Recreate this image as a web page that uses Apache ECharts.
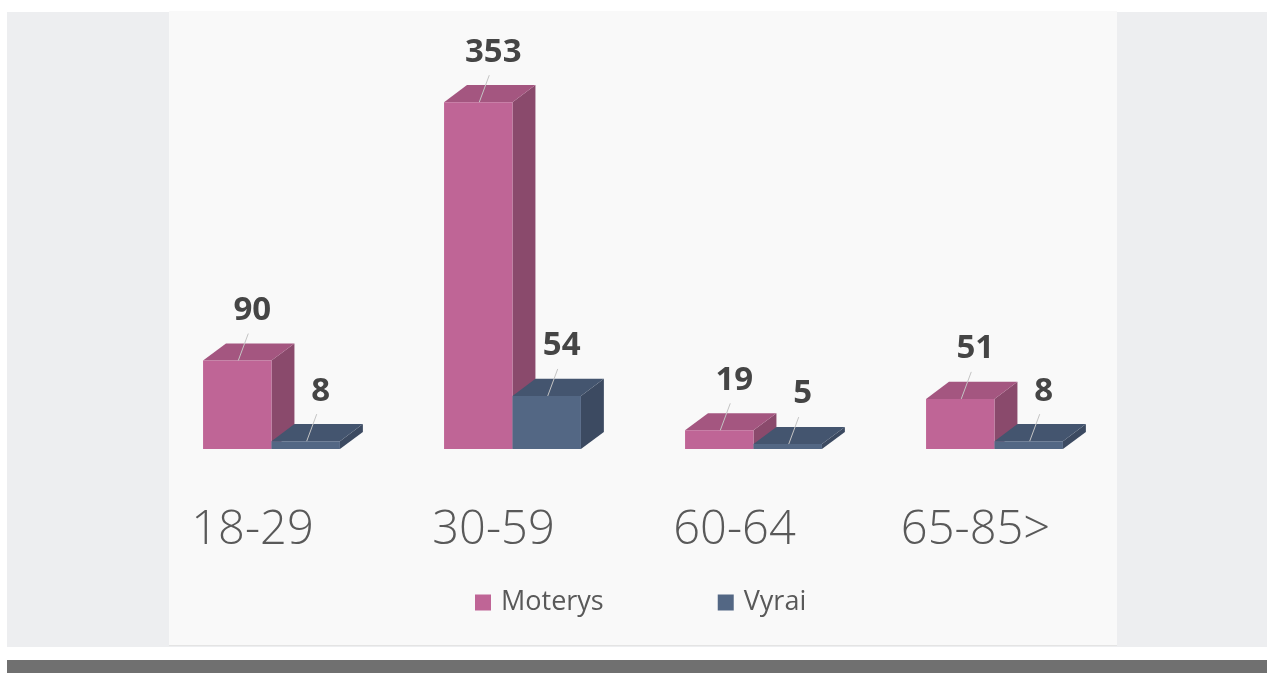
<!DOCTYPE html>
<html>
<head>
<meta charset="utf-8">
<script src="https://cdn.jsdelivr.net/npm/echarts@6/dist/echarts.min.js"></script>
<style>
html,body{margin:0;padding:0;background:#ffffff;}
#chart{width:1267px;height:673px;}
</style>
</head>
<body>
<div id="chart"></div>
<script>
const categories = ['18-29', '30-59', '60-64', '65-85>'];
const seriesNames = ['Moterys', 'Vyrai'];
const moterys = [90, 353, 19, 51];
const vyrai = [8, 54, 5, 8];

const palettes = [
  { front: '#bf6596', top: '#a45680', side: '#8a4a6c' },
  { front: '#536784', top: '#44556f', side: '#3c4a61' }
];

function renderBar(params, api) {
  const ci = api.value(0);
  const v = api.value(1);
  const base = api.coord([ci, 0]);
  const topP = api.coord([ci, v]);
  const band = api.size([1, 0])[0];
  const w = band * 0.284;
  const x0 = params.seriesIndex === 0 ? base[0] - w : base[0];
  const x1 = x0 + w;
  const yb = base[1];
  const yt = topP[1];
  const dx = w * 0.335;
  const dy = w * 0.25;
  const p = palettes[params.seriesIndex];
  const fc = (x0 + x1) / 2;
  return {
    type: 'group',
    children: [
      { type: 'polygon', shape: { points: [[x1, yt], [x1 + dx, yt - dy], [x1 + dx, yb - dy], [x1, yb]] }, style: { fill: p.side } },
      { type: 'polygon', shape: { points: [[x0, yt], [x1, yt], [x1 + dx, yt - dy], [x0 + dx, yt - dy]] }, style: { fill: p.top } },
      { type: 'rect', shape: { x: x0, y: yt, width: w, height: yb - yt }, style: { fill: p.front } },
      { type: 'line', shape: { x1: fc + 1, y1: yt, x2: fc + 11, y2: yt - 27 }, style: { stroke: '#c4c4c4', lineWidth: 1 } },
      { type: 'text', style: { x: fc + 15, y: yt - 50, text: String(v), align: 'center', verticalAlign: 'middle', fontFamily: 'Open Sans', fontWeight: 'bold', fontSize: 33, fill: '#454545' } }
    ]
  };
}

const chart = echarts.init(document.getElementById('chart'), null, { renderer: 'canvas' });
chart.setOption({
  animation: false,
  backgroundColor: '#ffffff',
  color: [palettes[0].front, palettes[1].front],
  graphic: [
    { type: 'rect', z: -10, shape: { x: 7, y: 12, width: 1260, height: 635 }, style: { fill: '#edeef0' } },
    { type: 'rect', z: -9, shape: { x: 169, y: 11, width: 948, height: 635 }, style: { fill: '#f9f9f9' } },
    { type: 'rect', z: -8, shape: { x: 169, y: 645, width: 948, height: 1 }, style: { fill: '#e4e4e4' } },
    { type: 'rect', z: -10, shape: { x: 7, y: 660, width: 1260, height: 13 }, style: { fill: '#707070' } }
  ],
  grid: { left: 151, right: 152, top: 56, bottom: 224 },
  legend: {
    data: seriesNames,
    left: 475,
    top: 589,
    padding: 0,
    icon: 'rect',
    itemWidth: 16,
    itemHeight: 16,
    itemGap: 114,
    textStyle: { fontFamily: 'Open Sans', fontSize: 27, color: '#595959', padding: [0, 0, 0, 5] }
  },
  xAxis: {
    type: 'category',
    data: categories,
    axisLine: { show: false },
    axisTick: { show: false },
    splitLine: { show: false },
    axisLabel: {
      fontFamily: 'Open Sans',
      fontWeight: 300,
      fontSize: 47,
      color: '#595959',
      margin: 58,
      padding: [0, 38, 0, 0]
    }
  },
  yAxis: {
    type: 'value',
    min: 0,
    max: 400,
    show: false,
    splitLine: { show: false }
  },
  series: [
    { name: seriesNames[0], type: 'custom', renderItem: renderBar, encode: { x: 0, y: 1 }, data: moterys.map((v, i) => [i, v]) },
    { name: seriesNames[1], type: 'custom', renderItem: renderBar, encode: { x: 0, y: 1 }, data: vyrai.map((v, i) => [i, v]) }
  ]
});
</script>
</body>
</html>
